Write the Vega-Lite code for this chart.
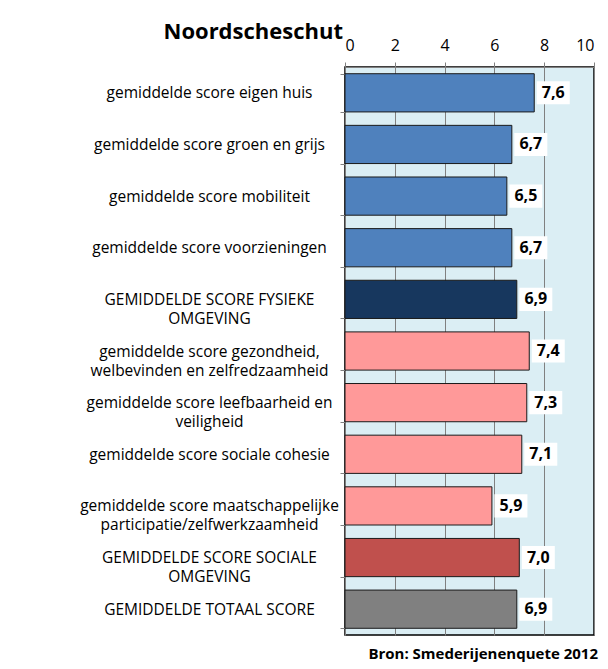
{
  "$schema": "https://vega.github.io/schema/vega-lite/v6.json",
  "autosize": "none",
  "width": 249,
  "height": 568,
  "padding": {"left": 345, "top": 67, "right": 14, "bottom": 34},
  "background": "white",
  "config": {
    "locale": {"number": {"decimal": ",", "thousands": ".", "grouping": [3], "currency": ["€", ""]}},
    "view": {"fill": "#DBEEF4", "stroke": "#000000", "strokeWidth": 1.5},
    "font": "Open Sans"
  },
  "title": {
    "text": "Bron: Smederijenenquete 2012",
    "orient": "bottom",
    "anchor": "end",
    "frame": "group",
    "fontSize": 15,
    "fontWeight": "bold",
    "font": "Open Sans",
    "offset": 12,
    "dx": 4
  },
  "data": {
    "values": [
      {"cat": "gemiddelde score eigen huis", "value": 7.6, "group": "fysiek"},
      {"cat": "gemiddelde score groen en grijs", "value": 6.7, "group": "fysiek"},
      {"cat": "gemiddelde score mobiliteit", "value": 6.5, "group": "fysiek"},
      {"cat": "gemiddelde score voorzieningen", "value": 6.7, "group": "fysiek"},
      {"cat": "GEMIDDELDE SCORE FYSIEKE|OMGEVING", "value": 6.9, "group": "fysiek totaal"},
      {"cat": "gemiddelde score gezondheid,|welbevinden en zelfredzaamheid", "value": 7.4, "group": "sociaal"},
      {"cat": "gemiddelde score leefbaarheid en|veiligheid", "value": 7.3, "group": "sociaal"},
      {"cat": "gemiddelde score sociale cohesie", "value": 7.1, "group": "sociaal"},
      {"cat": "gemiddelde score maatschappelijke|participatie/zelfwerkzaamheid", "value": 5.9, "group": "sociaal"},
      {"cat": "GEMIDDELDE SCORE SOCIALE|OMGEVING", "value": 7.0, "group": "sociaal totaal"},
      {"cat": "GEMIDDELDE TOTAAL SCORE", "value": 6.9, "group": "totaal"}
    ]
  },
  "encoding": {
    "y": {
      "field": "cat",
      "type": "nominal",
      "sort": null,
      "scale": {"paddingInner": 0.26, "paddingOuter": 0.13},
      "axis": {
        "title": null,
        "labelExpr": "split(datum.label, '|')",
        "labelAlign": "center",
        "labelPadding": 131,
        "labelLimit": 340,
        "labelFontSize": 15.5,
        "labelLineHeight": 19,
        "labelColor": "#000000",
        "labelFont": "Open Sans",
        "tickBand": "extent",
        "tickSize": 5,
        "tickColor": "#808080",
        "domainColor": "#808080",
        "grid": false
      }
    }
  },
  "layer": [
    {
      "mark": {"type": "bar", "stroke": "#1a1a1a", "strokeWidth": 1},
      "encoding": {
        "x": {
          "field": "value",
          "type": "quantitative",
          "scale": {"domain": [0, 10], "nice": false},
          "axis": {
            "orient": "top",
            "values": [0, 2, 4, 6, 8, 10],
            "title": "Noordscheschut",
            "titleFontSize": 22,
            "titleFontWeight": "bold",
            "titleFont": "Open Sans",
            "titleX": -182,
            "titleY": -29,
            "titleAlign": "left",
            "titleBaseline": "alphabetic",
            "titleColor": "#000000",
            "labelFontSize": 16,
            "labelColor": "#000000",
            "labelPadding": 9,
            "tickSize": 5,
            "tickColor": "#808080",
            "domainColor": "#808080",
            "grid": true,
            "gridColor": "#808080",
            "gridWidth": 1
          }
        },
        "color": {
          "field": "group",
          "type": "nominal",
          "scale": {
            "domain": ["fysiek", "fysiek totaal", "sociaal", "sociaal totaal", "totaal"],
            "range": ["#4F81BD", "#17375E", "#FF9999", "#C0504D", "#808080"]
          },
          "legend": null
        }
      }
    },
    {
      "mark": {
        "type": "point",
        "shape": "M-1,-0.7L1,-0.7L1,0.7L-1,0.7Z",
        "filled": true,
        "fill": "white",
        "opacity": 1,
        "strokeWidth": 0,
        "size": 1089,
        "xOffset": 19
      },
      "encoding": {
        "x": {"field": "value", "type": "quantitative"}
      }
    },
    {
      "mark": {
        "type": "text",
        "fontSize": 16,
        "fontWeight": "bold",
        "font": "Open Sans",
        "color": "#000000",
        "dx": 19,
        "align": "center",
        "baseline": "middle"
      },
      "encoding": {
        "x": {"field": "value", "type": "quantitative"},
        "text": {"field": "value", "type": "quantitative", "format": ".1f"}
      }
    }
  ]
}
